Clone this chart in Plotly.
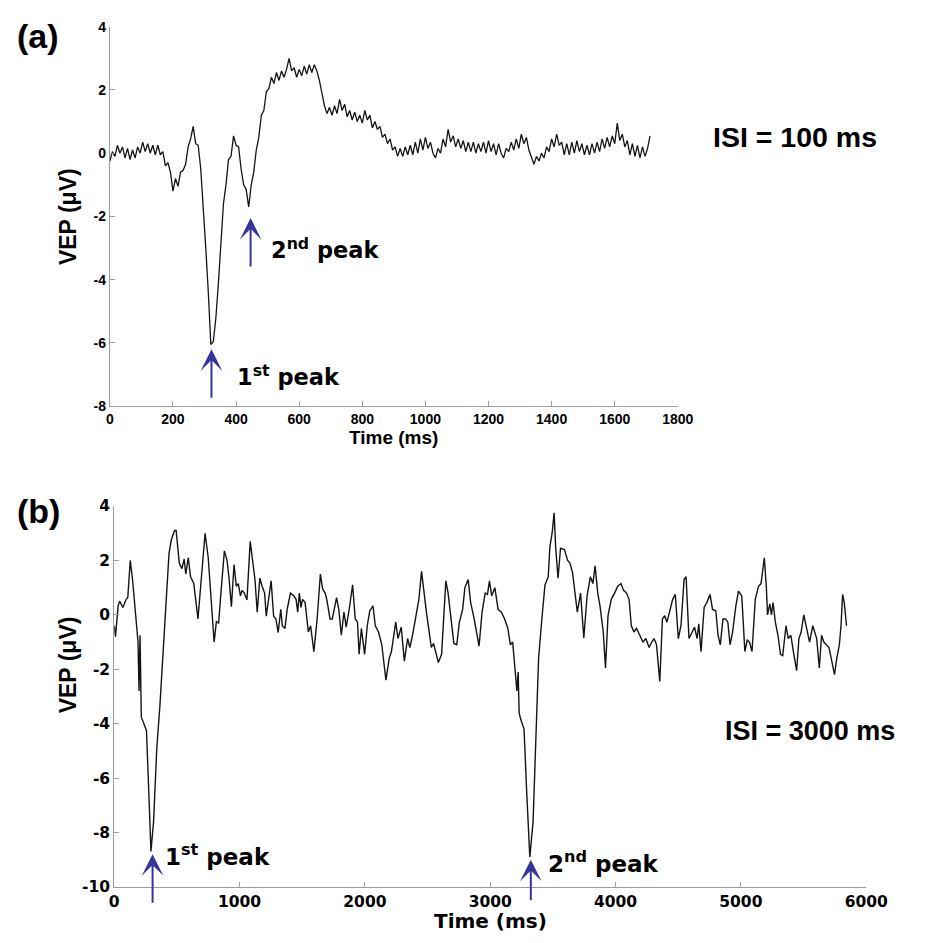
import plotly.graph_objects as go

W, H = 928, 943

# ---------------- data ----------------
# Panel (a): ISI = 100 ms, sampled every 8 ms
sample_ms_a = 8
vep_a = [
    -0.25, 0.05, -0.1, 0.25, 0.0, 0.2, -0.15, 0.15, -0.2, 0.1,
    -0.15, 0.2, 0.0, 0.35, 0.05, 0.3, 0.0, 0.25, -0.05, 0.25,
    -0.05, 0.05, -0.4, -0.3, -0.6, -1.2, -0.8, -1.05, -0.6, -0.55,
    -0.35, 0.2, 0.45, 0.85, 0.3, 0.25, -0.5, -1.6, -3.0, -4.4,
    -6.05, -5.95, -5.2, -4.1, -3.0, -1.6, -1.0, -0.2, -0.1, 0.55,
    0.25, 0.2, -0.5, -1.0, -1.15, -1.7, -1.0, -0.6, 0.1, 0.5,
    1.2, 1.35, 1.95, 2.05, 2.4, 2.2, 2.55, 2.3, 2.6, 2.4,
    2.65, 3.0, 2.6, 2.7, 2.4, 2.65, 2.45, 2.75, 2.5, 2.8,
    2.55, 2.8, 2.6, 2.3, 1.9, 1.5, 1.25, 1.45, 1.2, 1.5,
    1.25, 1.7, 1.35, 1.55, 1.15, 1.35, 1.05, 1.3, 1.0, 1.2,
    0.95, 1.35, 1.05, 1.2, 0.8, 1.0, 0.75, 0.85, 0.5, 0.6,
    0.3, 0.45, 0.1, 0.2, -0.1, 0.15, -0.1, 0.2, -0.05, 0.25,
    -0.05, 0.35, 0.0, 0.45, 0.1, 0.5, 0.15, 0.35, 0.0, -0.15,
    0.15, 0.0, 0.45, 0.2, 0.75, 0.35, 0.55, 0.2, 0.45, 0.15,
    0.4, 0.05, 0.35, 0.05, 0.35, 0.0, 0.3, 0.05, 0.35, 0.0,
    0.4, 0.05, 0.3, -0.05, 0.3, 0.0, -0.15, 0.15, 0.05, 0.35,
    0.1, 0.45, 0.15, 0.6, 0.3, 0.5, 0.1, -0.1, -0.35, -0.1,
    -0.25, 0.0, -0.15, 0.2, 0.05, 0.45, 0.2, 0.6, 0.25, 0.35,
    -0.05, 0.3, -0.05, 0.35, 0.0, 0.4, 0.05, 0.3, -0.05, 0.25,
    -0.05, 0.3, 0.0, 0.35, 0.05, 0.45, 0.15, 0.5, 0.2, 0.55,
    0.3, 0.95, 0.4, 0.6, 0.2, 0.4, -0.05, 0.3, -0.1, 0.25,
    -0.15, 0.2, -0.1, 0.15, 0.55,
]
time_a = [i * sample_ms_a for i in range(len(vep_a))]

# Panel (b): ISI = 3000 ms
time_b = [
    0, 10, 31, 44, 69, 95, 108, 128, 146, 172,
    190, 198, 206, 216, 236, 257, 275, 293, 314, 339,
    365, 386, 403, 421, 437, 455, 481, 494, 519, 540,
    558, 571, 591, 609, 635, 668, 694, 725, 750, 776,
    797, 815, 833, 853, 879, 900, 917, 935, 956, 974,
    990, 1007, 1020, 1038, 1059, 1085, 1105, 1123, 1141, 1162,
    1180, 1200, 1213, 1231, 1252, 1272, 1290, 1308, 1329, 1341,
    1362, 1380, 1406, 1432, 1451, 1464, 1477, 1490, 1503, 1523,
    1549, 1567, 1593, 1619, 1645, 1663, 1683, 1696, 1722, 1740,
    1774, 1792, 1812, 1833, 1851, 1877, 1902, 1923, 1941, 1954,
    1972, 1998, 2019, 2039, 2065, 2083, 2109, 2135, 2153, 2168,
    2194, 2212, 2246, 2264, 2290, 2315, 2341, 2359, 2380, 2406,
    2431, 2452, 2470, 2491, 2509, 2530, 2548, 2566, 2586, 2612,
    2646, 2664, 2684, 2710, 2733, 2754, 2780, 2798, 2824, 2844,
    2870, 2891, 2911, 2935, 2960, 2978, 2994, 3012, 3037, 3063,
    3089, 3115, 3141, 3161, 3179, 3197, 3213, 3223, 3231, 3244,
    3270, 3290, 3316, 3342, 3360, 3386, 3412, 3437, 3463, 3476,
    3494, 3510, 3522, 3541, 3561, 3592, 3618, 3636, 3657, 3677,
    3695, 3721, 3747, 3773, 3799, 3819, 3837, 3858, 3876, 3902,
    3920, 3940, 3966, 3992, 4018, 4044, 4064, 4088, 4108, 4126,
    4147, 4167, 4193, 4219, 4242, 4268, 4289, 4307, 4327, 4353,
    4374, 4392, 4410, 4431, 4456, 4477, 4501, 4522, 4547, 4563,
    4586, 4612, 4630, 4651, 4664, 4682, 4707, 4728, 4754, 4774,
    4800, 4818, 4836, 4857, 4878, 4896, 4914, 4934, 4960, 4981,
    5007, 5032, 5051, 5069, 5089, 5115, 5141, 5161, 5174, 5187,
    5203, 5213, 5231, 5244, 5257, 5275, 5296, 5316, 5334, 5360,
    5378, 5399, 5419, 5445, 5463, 5481, 5502, 5528, 5548, 5574,
    5605, 5626, 5644, 5662, 5683, 5703, 5721, 5747, 5765, 5786,
    5799, 5812, 5825, 5843,
]
vep_b = [
    -0.4, -0.8, 0.33, 0.5, 0.27, 0.57, 0.63, 2.0, 1.3, -0.03,
    -1.0, -2.8, -0.75, -3.75, -4.0, -4.25, -6.4, -8.7, -7.6, -4.95,
    -3.3, -1.7, -0.3, 0.9, 2.25, 2.75, 3.1, 3.1, 1.9, 1.7,
    2.05, 1.5, 2.1, 1.4, 1.15, -0.15, 1.3, 3.0, 2.1, 0.45,
    -1.0, -0.25, -0.3, 0.9, 2.35, 2.0, 1.3, 0.3, 1.85, 1.05,
    1.15, 0.7, 0.9, 0.8, 0.55, 2.7, 2.0, 1.3, 0.1, 1.35,
    1.05, 0.8, -0.05, 0.55, 1.25, -0.05, -0.15, -0.65, 0.2, -0.4,
    -0.5, 0.2, 0.8, 0.7, 0.57, 0.1, 0.8, 0.27, 0.57, 0.45,
    -0.63, -0.4, -1.35, -0.15, 1.5, 0.95, 0.8, 0.57, -0.15, -0.15,
    0.63, 0.2, -0.75, 0.1, -0.45, 0.27, 1.1, -0.15, -0.27, -1.45,
    -0.5, -1.45, -0.4, 0.15, 0.33, -0.4, -0.63, -1.1, -1.95, -2.4,
    -1.6, -1.35, -0.27, -0.87, -0.45, -1.7, -0.87, -1.2, -0.75, 0.0,
    0.57, 1.6, 0.8, 0.1, -0.5, -1.2, -1.05, -1.35, -1.75, -1.45,
    1.25, 0.8, 0.0, -1.05, -1.1, -0.27, 0.2, 1.0, 1.3, 0.45,
    -0.1, -0.63, -1.15, 0.1, 0.8, 0.75, 1.25, 0.7, 1.0, 0.2,
    0.1, -0.15, -0.5, -1.1, -1.0, -1.95, -2.8, -2.1, -3.6, -3.85,
    -4.2, -6.4, -8.9, -7.6, -5.2, -1.6, -0.15, 1.1, 1.4, 2.5,
    3.0, 3.75, 2.5, 1.35, 2.45, 2.4, 2.0, 1.9, 1.55, 0.8,
    0.1, 0.8, -0.85, 0.7, 1.4, 1.15, 1.8, 0.8, 0.33, -0.63,
    -1.95, -0.03, 0.57, 0.8, 1.05, 1.15, 0.9, 0.8, 0.57, -0.4,
    -0.63, -0.5, -0.75, -1.0, -0.87, -1.2, -1.0, -0.87, -1.1, -2.45,
    -0.15, -0.03, -0.27, 0.1, 0.57, 0.75, -0.87, -0.4, 1.3, 1.4,
    -0.87, -0.63, -0.45, -0.87, -0.33, -1.35, 0.27, 0.45, 0.75, 0.2,
    0.15, -0.75, -1.1, -0.15, -0.15, -0.27, -1.1, -0.63, 0.33, 0.87,
    0.7, -1.35, -0.93, -1.0, -1.35, 0.57, 1.05, 1.15, 1.6, 2.1,
    1.05, 0.0, 0.4, 0.0, 0.45, -0.27, -0.75, -1.45, -1.5, -0.4,
    -0.87, -0.75, -1.35, -2.05, -0.87, -0.63, 0.0, -0.5, -1.0, -0.4,
    -0.87, -1.95, -0.75, -1.0, -1.1, -1.2, -1.6, -2.2, -1.6, -1.1,
    -0.4, 0.75, 0.45, -0.4,
]

# peaks marked by arrows (time ms, VEP uV)
peaks_a = [(322, -6.2), (446, -2.05)]
peaks_b = [(306, -8.8), (3324, -9.0)]

xticks_a = [0, 200, 400, 600, 800, 1000, 1200, 1400, 1600, 1800]
yticks_a = [-8, -6, -4, -2, 0, 2, 4]
xticks_b = [0, 1000, 2000, 3000, 4000, 5000, 6000]
yticks_b = [-10, -8, -6, -4, -2, 0, 2, 4]

# ---------------- figure ----------------
def px(x):
    return x / W

def py(y):
    return 1 - y / H

ARIAL = "Liberation Sans, Arial, Helvetica, sans-serif"
DEJAVU = "DejaVu Sans, Liberation Sans, sans-serif"
AXC = "#9c9c9c"
BLUE = "#35359c"

fig = go.Figure()
fig.add_trace(go.Scatter(x=time_a, y=vep_a, mode="lines",
                         line=dict(color="#141414", width=1.3),
                         xaxis="x", yaxis="y", showlegend=False, hoverinfo="skip"))
fig.add_trace(go.Scatter(x=time_b, y=vep_b, mode="lines",
                         line=dict(color="#141414", width=1.4),
                         xaxis="x2", yaxis="y2", showlegend=False, hoverinfo="skip"))

common = dict(showline=True, linecolor=AXC, linewidth=1, ticks="inside", ticklen=5,
              tickcolor=AXC, tickwidth=1, showgrid=False, zeroline=False, mirror=False,
              fixedrange=True)
font_a = dict(family=ARIAL, size=14, color="black", weight="bold")
font_b = dict(family=DEJAVU, size=15.5, color="black", weight="bold")

def txt(vals):
    return [str(v) for v in vals]   # plain hyphen minus, as in the reference

fig.update_layout(
    width=W, height=H, margin=dict(l=0, r=0, t=0, b=0),
    paper_bgcolor="white", plot_bgcolor="white", showlegend=False,
    xaxis=dict(domain=[px(108), px(693)], range=[0, 1800], tickvals=xticks_a,
               ticktext=txt(xticks_a), anchor="y", tickfont=font_a, **common),
    yaxis=dict(domain=[py(405), py(18)], range=[-8, 4], tickvals=yticks_a,
               ticktext=txt(yticks_a), anchor="x", tickfont=font_a, **common),
    xaxis2=dict(domain=[px(112.5), px(887)], range=[0, 6000], tickvals=xticks_b,
                ticktext=txt(xticks_b), anchor="y2", tickfont=font_b, **common),
    yaxis2=dict(domain=[py(895), py(506.7)], range=[-10, 4], tickvals=yticks_b,
                ticktext=txt(yticks_b), anchor="x2", tickfont=font_b, **common),
)

def label(text, x, y, size, family=ARIAL, angle=0, xanchor="center"):
    fig.add_annotation(text=text, x=px(x), y=py(y), xref="paper", yref="paper",
                       showarrow=False, xanchor=xanchor, yanchor="middle",
                       textangle=angle,
                       font=dict(family=family, size=size, color="black", weight="bold"))

label("(a)", 34, 28, 34)
label("(b)", 34, 512, 34)
label("VEP (μV)", 65, 212, 23, angle=-90)
label("VEP (μV)", 65, 669, 23, angle=-90)
label("Time (ms)", 400, 437, 19)
label("Time (ms)", 500, 930, 20, family=DEJAVU)
label("ISI = 100 ms", 814, 130, 28.5)
label("ISI = 3000 ms", 829, 736, 27)
label("1<sup>st</sup> peak", 237, 374, 22.5, family=DEJAVU, xanchor="left")
label("2<sup>nd</sup> peak", 272, 244, 22.5, family=DEJAVU, xanchor="left")
label("1<sup>st</sup> peak", 163, 862, 23, family=DEJAVU, xanchor="left")
label("2<sup>nd</sup> peak", 557, 870, 23, family=DEJAVU, xanchor="left")

def arrow(xy, xref, yref, length):
    fig.add_annotation(x=xy[0], y=xy[1], xref=xref, yref=yref, text="",
                       showarrow=True, ax=0, ay=length, arrowhead=3,
                       arrowsize=1.8, arrowwidth=2, arrowcolor=BLUE, standoff=0)

arrow(peaks_a[0], "x", "y", 50)
arrow(peaks_a[1], "x", "y", 50)
arrow(peaks_b[0], "x2", "y2", 50)
arrow(peaks_b[1], "x2", "y2", 42)

fig.write_html("out.html")
